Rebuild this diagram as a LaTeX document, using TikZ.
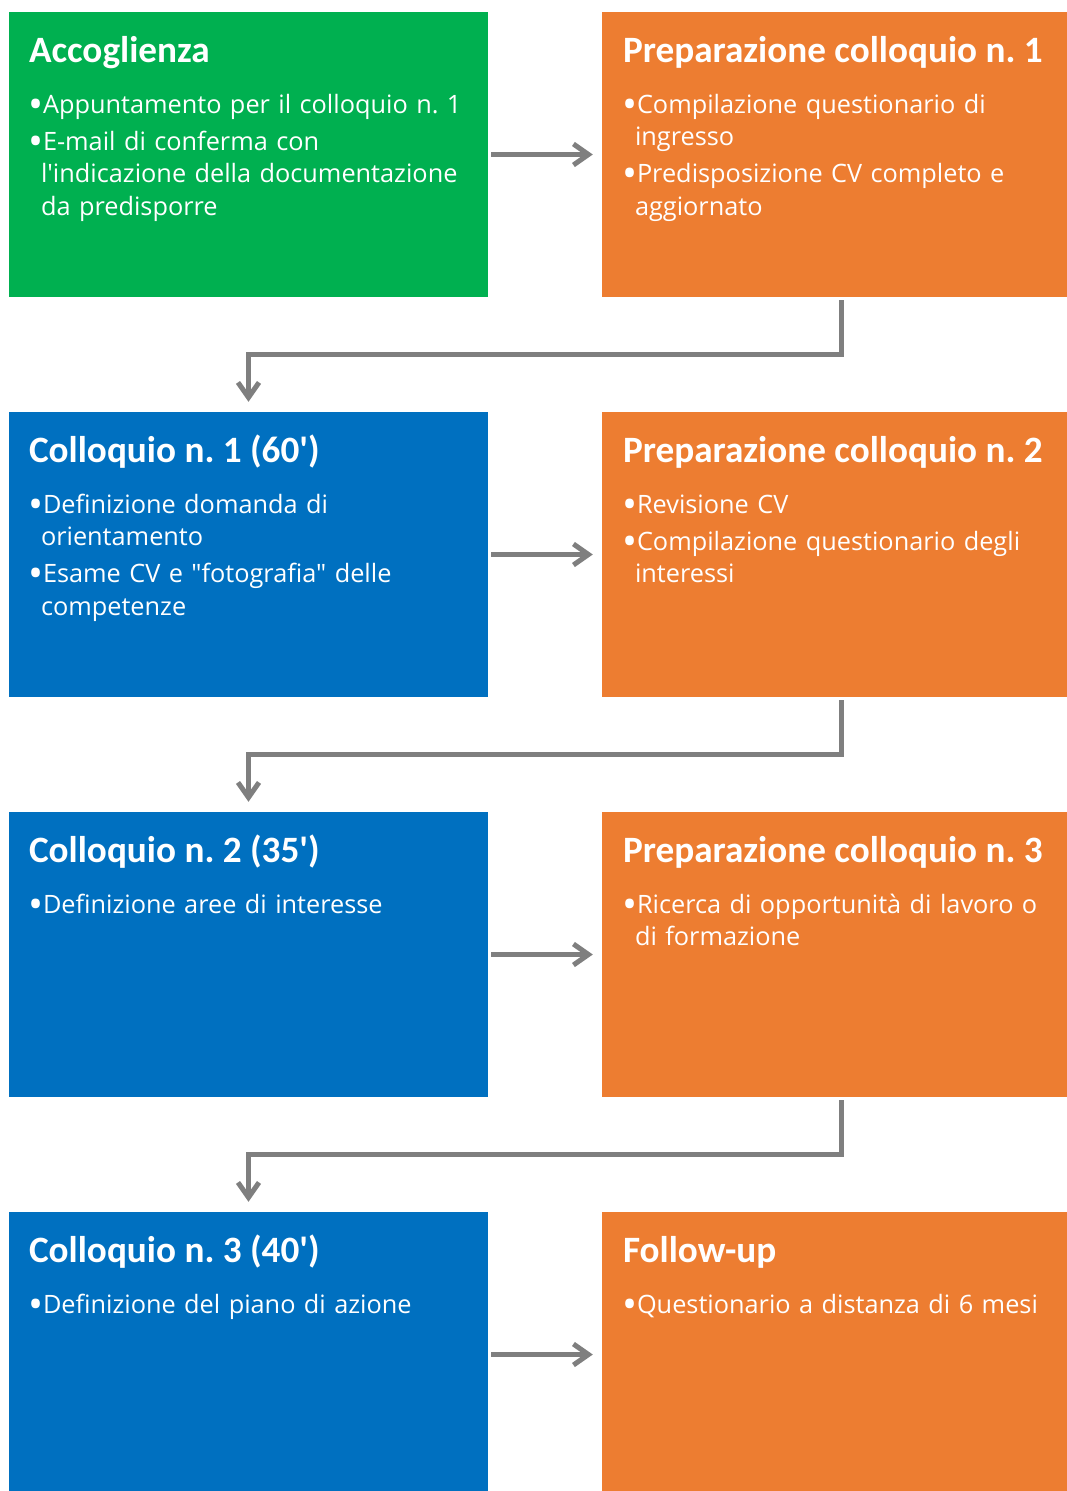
\documentclass[tikz,border=0pt]{standalone}
\usepackage{fontspec}
\newfontfamily\corpofont{Open Sans}
\newfontfamily\titolofont{Carlito}
\usetikzlibrary{arrows.meta,calc}
\definecolor{verde}{RGB}{0,176,80}
\definecolor{arancio}{RGB}{237,125,49}
\definecolor{blu}{RGB}{0,112,192}
\definecolor{grigio}{RGB}{127,127,127}
\frenchspacing
\newcommand\voce[1]{\hangindent=12pt\hangafter=1\noindent\rule{0pt}{24pt}\makebox[14pt][l]{\hspace{-0.5pt}\raisebox{-5pt}{\fontsize{40}{40}\selectfont•}}#1\par}
\tikzset{
  riquadro/.style={minimum width=479pt,minimum height=285pt,inner sep=0pt,fill=#1},
  titolo/.style={anchor=base west,inner sep=0pt,text=white,font=\titolofont\bfseries\fontsize{37.2}{40}\selectfont},
  corpo/.style={anchor=north west,inner sep=0pt,text=white,text width=460pt,align=left,
    font=\corpofont\fontsize{25.3}{32.5}\selectfont\setlength{\parskip}{4.5pt}},
  freccia/.style={draw=grigio,line width=5pt,-{Straight Barb[length=15pt,width=21pt]}}
}
\begin{document}
\begin{tikzpicture}[x=1pt,y=-1pt]
  \clip (0,0) rectangle (1067,1491);
  % riquadri
  \node[riquadro=verde] (acc) at (248.5,154.5) {};
  \node[riquadro=arancio] (prep1) at (841.5,154.5) {};
  \node[riquadro=blu] (coll1) at (248.5,554.5) {};
  \node[riquadro=arancio] (prep2) at (841.5,554.5) {};
  \node[riquadro=blu] (coll2) at (248.5,954.5) {};
  \node[riquadro=arancio] (prep3) at (841.5,954.5) {};
  \node[riquadro=blu] (coll3) at (248.5,1354.5) {};
  \node[riquadro=arancio] (follow) at (841.5,1354.5) {};
  % testi
  \node[titolo] (accT) at ($(acc.north west)+(20,51)$) {Accoglienza};
  \node[corpo] (accB) at ($(acc.north west)+(20,77)$) {\voce{Appuntamento per il colloquio n. 1}\voce{E-mail di conferma con\newline l'indicazione della documentazione\newline da predisporre}};
  \node[titolo] (prep1T) at ($(prep1.north west)+(21,51)$) {Preparazione colloquio n. 1};
  \node[corpo] (prep1B) at ($(prep1.north west)+(21,77)$) {\voce{Compilazione questionario di\newline ingresso}\voce{Predisposizione CV completo e\newline aggiornato}};
  \node[titolo] (coll1T) at ($(coll1.north west)+(20,51)$) {Colloquio n. 1 (60')};
  \node[corpo] (coll1B) at ($(coll1.north west)+(20,77)$) {\voce{Definizione domanda di\newline orientamento}\voce{Esame CV e "fotografia" delle\newline competenze}};
  \node[titolo] (prep2T) at ($(prep2.north west)+(21,51)$) {Preparazione colloquio n. 2};
  \node[corpo] (prep2B) at ($(prep2.north west)+(21,77)$) {\voce{Revisione CV}\voce{Compilazione questionario degli\newline interessi}};
  \node[titolo] (coll2T) at ($(coll2.north west)+(20,51)$) {Colloquio n. 2 (35')};
  \node[corpo] (coll2B) at ($(coll2.north west)+(20,77)$) {\voce{Definizione aree di interesse}};
  \node[titolo] (prep3T) at ($(prep3.north west)+(21,51)$) {Preparazione colloquio n. 3};
  \node[corpo] (prep3B) at ($(prep3.north west)+(21,77)$) {\voce{Ricerca di opportunità di lavoro o\newline di formazione}};
  \node[titolo] (coll3T) at ($(coll3.north west)+(20,51)$) {Colloquio n. 3 (40')};
  \node[corpo] (coll3B) at ($(coll3.north west)+(20,77)$) {\voce{Definizione del piano di azione}};
  \node[titolo] (followT) at ($(follow.north west)+(21,51)$) {Follow-up};
  \node[corpo] (followB) at ($(follow.north west)+(21,77)$) {\voce{Questionario a distanza di 6 mesi}};
  % frecce
  \draw[freccia,shorten <=3pt,shorten >=9pt] (acc) -- (prep1);
  \draw[freccia,shorten <=3pt,shorten >=9pt] (coll1) -- (prep2);
  \draw[freccia,shorten <=3pt,shorten >=9pt] (coll2) -- (prep3);
  \draw[freccia,shorten <=3pt,shorten >=9pt] (coll3) -- (follow);
  \draw[freccia,shorten <=3pt,shorten >=10pt] (prep1.south) -- ++(0,57.5) -| (coll1.north);
  \draw[freccia,shorten <=3pt,shorten >=10pt] (prep2.south) -- ++(0,57.5) -| (coll2.north);
  \draw[freccia,shorten <=3pt,shorten >=10pt] (prep3.south) -- ++(0,57.5) -| (coll3.north);
\end{tikzpicture}
\end{document}
